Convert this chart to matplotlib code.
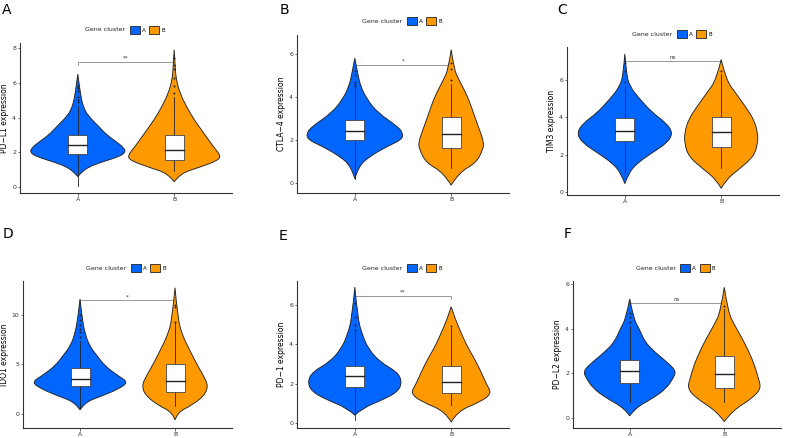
import numpy as np
import matplotlib.pyplot as plt
from matplotlib.patches import Patch, Rectangle, PathPatch
from matplotlib.path import Path

blue = '#0066FF'
orange = '#FF9900'

letters = ['A', 'B', 'C', 'D', 'E', 'F']
genes = ['PD\u2212L1', 'CTLA\u22124', 'TIM3', 'IDO1', 'PD\u22121', 'PD\u2212L2']
groups = ['A', 'B']
signif = ['**', '*', 'ns', '*', '**', 'ns']
bracket_y = [7.22, 5.5, 7.0, 11.5, 6.47, 5.14]

# violin outlines: y values and half widths
pdl1_a_y = [0.6, 0.8, 1.15, 1.44, 1.73, 2.0, 2.3, 2.6, 3.0, 3.47, 4.14, 4.6, 5.0, 5.5, 6.0, 6.5]
pdl1_a_w = [0, 0.03, 0.11, 0.25, 0.42, 0.50, 0.47, 0.40, 0.30, 0.22, 0.10, 0.06, 0.04, 0.025, 0.012, 0]
pdl1_b_y = [0.3, 0.77, 1.15, 1.54, 1.83, 2.3, 3.08, 3.85, 4.6, 5.4, 6.2, 7.0, 7.9]
pdl1_b_w = [0, 0.06, 0.27, 0.46, 0.48, 0.41, 0.31, 0.21, 0.13, 0.06, 0.02, 0.01, 0]

ctla4_a_y = [0.2, 0.79, 1.25, 1.71, 2.02, 2.33, 2.64, 3.26, 3.87, 4.49, 5.1, 5.8]
ctla4_a_w = [0, 0.04, 0.16, 0.34, 0.49, 0.5, 0.44, 0.24, 0.13, 0.06, 0.03, 0]
ctla4_b_y = [-0.1, 0.48, 0.94, 1.56, 1.9, 2.64, 3.4, 4.03, 4.8, 5.28, 6.2]
ctla4_b_w = [0, 0.08, 0.26, 0.33, 0.34, 0.28, 0.22, 0.17, 0.08, 0.03, 0]

tim3_a_y = [0.45, 1.02, 1.55, 2.09, 2.63, 3.16, 3.7, 4.23, 4.95, 5.66, 6.38, 7.4]
tim3_a_w = [0, 0.04, 0.13, 0.28, 0.44, 0.5, 0.43, 0.29, 0.16, 0.05, 0.015, 0]
tim3_b_y = [0.2, 0.66, 1.2, 1.91, 2.63, 3.16, 3.88, 4.59, 5.3, 6.02, 7.1]
tim3_b_w = [0, 0.05, 0.18, 0.34, 0.38, 0.38, 0.34, 0.25, 0.15, 0.05, 0]

ido1_a_y = [0.4, 1.17, 1.85, 2.5, 3.19, 3.86, 4.87, 5.87, 6.88, 8.2, 9.9, 11.6]
ido1_a_w = [0, 0.05, 0.24, 0.4, 0.51, 0.4, 0.26, 0.18, 0.1, 0.05, 0.02, 0]
ido1_b_y = [-0.6, 0.17, 0.84, 1.85, 2.85, 3.86, 5.2, 6.54, 7.9, 9.56, 12.75]
ido1_b_w = [0, 0.03, 0.17, 0.31, 0.35, 0.3, 0.22, 0.15, 0.08, 0.03, 0]

pd1_a_y = [0.4, 0.76, 1.18, 1.6, 2.1, 2.6, 3.1, 3.78, 4.45, 5.3, 6.9]
pd1_a_w = [0, 0.08, 0.29, 0.45, 0.49, 0.44, 0.26, 0.14, 0.08, 0.03, 0]
pd1_b_y = [0.05, 0.59, 1.09, 1.51, 1.93, 2.6, 3.28, 3.95, 4.62, 5.3, 5.9]
pd1_b_w = [0, 0.06, 0.31, 0.42, 0.37, 0.31, 0.24, 0.16, 0.1, 0.04, 0]

pdl2_a_y = [0.1, 0.46, 0.9, 1.34, 1.79, 2.08, 2.38, 2.97, 3.41, 4.0, 4.45, 5.33]
pdl2_a_w = [0, 0.06, 0.25, 0.39, 0.46, 0.49, 0.43, 0.26, 0.16, 0.1, 0.04, 0]
pdl2_b_y = [-0.15, 0.31, 0.9, 1.34, 1.79, 2.38, 2.97, 3.56, 4.15, 4.74, 5.85]
pdl2_b_w = [0, 0.08, 0.3, 0.39, 0.36, 0.32, 0.26, 0.19, 0.11, 0.04, 0]

# box stats: lower whisker, q1, median, q3, upper whisker
pdl1_box = [[0.05, 1.88, 2.4, 3.0, 4.65], [0.95, 1.58, 2.15, 3.0, 5.2]]
ctla4_box = [[0.2, 2.0, 2.42, 2.95, 4.4], [0.7, 1.65, 2.27, 3.05, 4.6]]
tim3_box = [[1.0, 2.75, 3.27, 3.95, 5.7], [1.3, 2.4, 3.2, 4.02, 6.3]]
ido1_box = [[0.6, 2.8, 3.55, 4.6, 7.4], [0.8, 2.2, 3.3, 5.0, 9.2]]
pd1_box = [[0.15, 1.85, 2.4, 2.92, 4.6], [0.9, 1.55, 2.1, 2.88, 4.8]]
pdl2_box = [[0.7, 1.58, 2.12, 2.62, 4.1], [0.7, 1.33, 1.97, 2.77, 4.9]]

pdl1_out = [[4.9, 5.0, 5.2, 5.5, 5.7, 5.8], [5.4, 5.8, 6.3, 6.8, 7.0, 7.4]]
ctla4_out = [[4.5, 4.6, 4.7, 5.0, 5.2], [4.8, 5.3, 5.6]]
tim3_out = [[5.9, 6.5, 6.9], [6.5]]
ido1_out = [[7.8, 8.3, 8.6, 9.0, 9.5, 10.0], [9.3, 10.8, 11.0]]
pd1_out = [[4.7, 5.0, 5.4, 6.1], [4.95]]
pdl2_out = [[4.3, 4.5, 4.7], [5.0]]

yticks = [[0, 2, 4, 6, 8], [0, 2, 4, 6], [0, 2, 4, 6], [0, 5, 10], [0, 2, 4, 6], [0, 2, 4, 6]]

violins = [
    [(pdl1_a_y, pdl1_a_w), (pdl1_b_y, pdl1_b_w)],
    [(ctla4_a_y, ctla4_a_w), (ctla4_b_y, ctla4_b_w)],
    [(tim3_a_y, tim3_a_w), (tim3_b_y, tim3_b_w)],
    [(ido1_a_y, ido1_a_w), (ido1_b_y, ido1_b_w)],
    [(pd1_a_y, pd1_a_w), (pd1_b_y, pd1_b_w)],
    [(pdl2_a_y, pdl2_a_w), (pdl2_b_y, pdl2_b_w)],
]
boxes = [pdl1_box, ctla4_box, tim3_box, ido1_box, pd1_box, pdl2_box]
outliers = [pdl1_out, ctla4_out, tim3_out, ido1_out, pd1_out, pdl2_out]

# layout (pixels): left, right, top, bottom of each panel + y limits
W, H = 786, 438
boxes_px = [(20, 232, 43, 193), (297, 509, 35, 193), (567, 779, 47, 195),
            (23, 232, 281, 428), (297, 509, 281, 428), (573, 781, 281, 428)]
ylims = [(-0.345, 8.29), (-0.465, 6.88), (-0.16, 7.77),
         (-1.42, 13.43), (-0.25, 7.21), (-0.44, 6.13)]
letter_px = [(2, 14), (280, 14), (557, 14), (3, 238), (279, 240), (564, 238)]


def side_curve(pts):
    # open quadratic b-spline through a side of the violin, ends kept fixed
    verts, codes = [], []
    n = len(pts)
    for k in range(1, n - 1):
        end = pts[k + 1] if k == n - 2 else (pts[k] + pts[k + 1]) / 2
        verts += [pts[k], end]
        codes += [Path.CURVE3, Path.CURVE3]
    return verts, codes


def violin_path(x0, y, w):
    y = np.array(y, dtype=float)
    w = np.array(w, dtype=float)
    right = np.column_stack([x0 + w, y])
    left = np.column_stack([x0 - w, y])[::-1]
    verts = [right[0]]
    codes = [Path.MOVETO]
    v, c = side_curve(right)
    verts += v
    codes += c
    v, c = side_curve(left)
    verts += v
    codes += c
    verts.append(right[0])
    codes.append(Path.CLOSEPOLY)
    return Path(verts, codes)


fig = plt.figure(figsize=(W / 100, H / 100), dpi=100)
colors = [blue, orange]

for i in range(6):
    l, r, t, b = boxes_px[i]
    ax = fig.add_axes([l / W, 1 - b / H, (r - l) / W, (b - t) / H])
    for j in range(2):
        x0 = j + 1
        vy, vw = violins[i][j]
        ax.add_patch(PathPatch(violin_path(x0, vy, vw), facecolor=colors[j],
                               edgecolor='#222222', linewidth=0.65, zorder=2))
        lo, q1, med, q3, hi = boxes[i][j]
        ax.plot([x0, x0], [lo, q1], color='#222222', lw=0.6, zorder=3)
        ax.plot([x0, x0], [q3, hi], color='#222222', lw=0.6, zorder=3)
        ax.add_patch(Rectangle((x0 - 0.1, q1), 0.2, q3 - q1, facecolor='white',
                               edgecolor='#444444', lw=0.6, zorder=4))
        ax.plot([x0 - 0.1, x0 + 0.1], [med, med], color='#222222', lw=1.0, zorder=5)
        ax.scatter([x0] * len(outliers[i][j]), outliers[i][j], s=2,
                   color='#222222', zorder=5, linewidths=0)

    # significance bracket
    by = bracket_y[i]
    tip = (ylims[i][1] - ylims[i][0]) * 0.02
    ax.plot([1, 1, 2, 2], [by - tip, by, by, by - tip], color='#888888', lw=0.6, zorder=1)
    ax.text(1.5, by + tip * 0.3, signif[i], ha='center', va='bottom', fontsize=4, color='#333333')

    ax.set_xlim(0.4, 2.6)
    ax.set_ylim(*ylims[i])
    ax.set_xticks([1, 2])
    ax.set_xticklabels(groups)
    ax.set_yticks(yticks[i])
    ax.tick_params(labelsize=4.5, length=1.8, width=0.5, pad=1, colors='#333333')
    ax.set_ylabel(genes[i] + ' expression', fontsize=5.5, labelpad=2)
    for s in ['top', 'right']:
        ax.spines[s].set_visible(False)
    for s in ['left', 'bottom']:
        ax.spines[s].set_linewidth(0.8)
        ax.spines[s].set_color('#333333')

    handles = [Patch(facecolor=blue, edgecolor='#222222', lw=0.6),
               Patch(facecolor=orange, edgecolor='#222222', lw=0.6)]
    ax.legend(handles, groups, loc='center', bbox_to_anchor=(0.6, 1.087), ncol=2,
              frameon=False, fontsize=4, handlelength=1.8, handleheight=1.8,
              columnspacing=0.6, handletextpad=0.4, borderpad=0)
    ax.text(0.495, 1.087, 'Gene cluster', transform=ax.transAxes, ha='right',
            va='center', fontsize=4.5, color='#222222')

    lx, ly = letter_px[i]
    fig.text(lx / W, 1 - ly / H, letters[i], fontsize=10, ha='left', va='baseline')

fig.savefig('out.png', dpi=100)
